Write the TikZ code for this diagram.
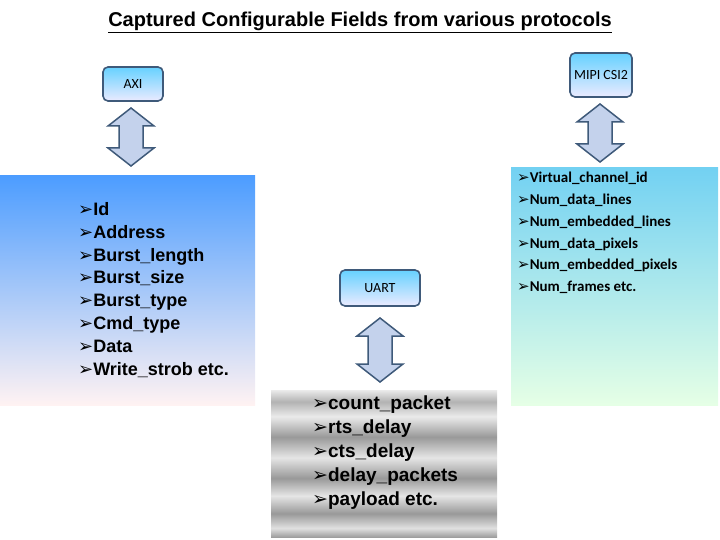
\documentclass[tikz,border=0pt]{standalone}
\usepackage{fontspec}
\setmainfont{Liberation Sans}
\newfontfamily\calfont{Carlito}
\newfontfamily\djv{DejaVu Sans}
\newcommand{\bul}{{\djv\bfseries\symbol{"27A2}}}
\pgfdeclareverticalshading{uartsh}{100bp}{color(0bp)=(black!38);color(25bp)=(black!38);color(28bp)=(black!12);color(33bp)=(black!40);color(39bp)=(black!10);color(45bp)=(black!40);color(52bp)=(black!10);color(59bp)=(black!40);color(66bp)=(black!8);color(71bp)=(black!30);color(75bp)=(black!8);color(100bp)=(black!8)}
\definecolor{edge}{HTML}{3F5A7A}
\definecolor{afill}{HTML}{C4D2EC}
\tikzset{
 lab/.style={draw=edge,line width=1.6pt,rounded corners=5pt,top color=blue!30!cyan!60!white,bottom color=blue!8,font=\calfont\fontsize{14}{16}\selectfont,inner sep=0pt},
 dbl/.style={draw=edge,line width=1.5pt,fill=afill,line join=miter},
}
\newcommand{\darr}[3]{% cx, ytop, ybot
 \draw[dbl] (#1,#2) -- ++(23,18) -- ++(-11,0) -- (#1+12,#3-18) -- ++(11,0) -- (#1,#3) -- ++(-23,-18) -- ++(11,0) -- (#1-12,#2+18) -- ++(-11,0) -- cycle;}
\begin{document}
\begin{tikzpicture}[x=1pt,y=-1pt]
\useasboundingbox (0,0) rectangle (720,540);
\node[font=\bfseries\fontsize{20}{24}\selectfont] (title) at (360,22) {\underline{Captured Configurable Fields from various protocols}};
\node[lab,minimum width=60pt,minimum height=34pt] (axi) at (133,84) {AXI};
\node[lab,minimum width=62pt,minimum height=44pt] (mipi) at (601,75) {MIPI CSI2};
\node[lab,minimum width=80pt,minimum height=36pt] (uart) at (380,288) {UART};
\darr{131}{108}{166}
\darr{600}{104}{162}
\darr{380}{318}{382}
\shade[top color=blue!55!cyan!70!white,bottom color=pink!20!white] (0,176) rectangle (255,405);
\node[anchor=north west,align=left,font=\bfseries\fontsize{18}{22.9}\selectfont,inner sep=0pt] (axil) at (78,202) {\bul Id\\\bul Address\\\bul Burst\_length\\\bul Burst\_size\\\bul Burst\_type\\\bul Cmd\_type\\\bul Data\\\bul Write\_strob etc.};
\shade[shading=uartsh] (271,390) rectangle (497,537);
\node[anchor=north west,align=left,font=\bfseries\fontsize{19}{24}\selectfont,inner sep=0pt] (uartl) at (312,396) {\bul count\_packet\\\bul rts\_delay\\\bul cts\_delay\\\bul delay\_packets\\\bul payload etc.};
\shade[top color=blue!45!violet!30!cyan!60!white,bottom color=green!10!white] (511,168) rectangle (718,405);
\node[anchor=north west,align=left,font=\calfont\bfseries\fontsize{15}{21.8}\selectfont,inner sep=0pt] (mipil) at (517,172) {\bul Virtual\_channel\_id\\\bul Num\_data\_lines\\\bul Num\_embedded\_lines\\\bul Num\_data\_pixels\\\bul Num\_embedded\_pixels\\\bul Num\_frames etc.};
\end{tikzpicture}
\end{document}
